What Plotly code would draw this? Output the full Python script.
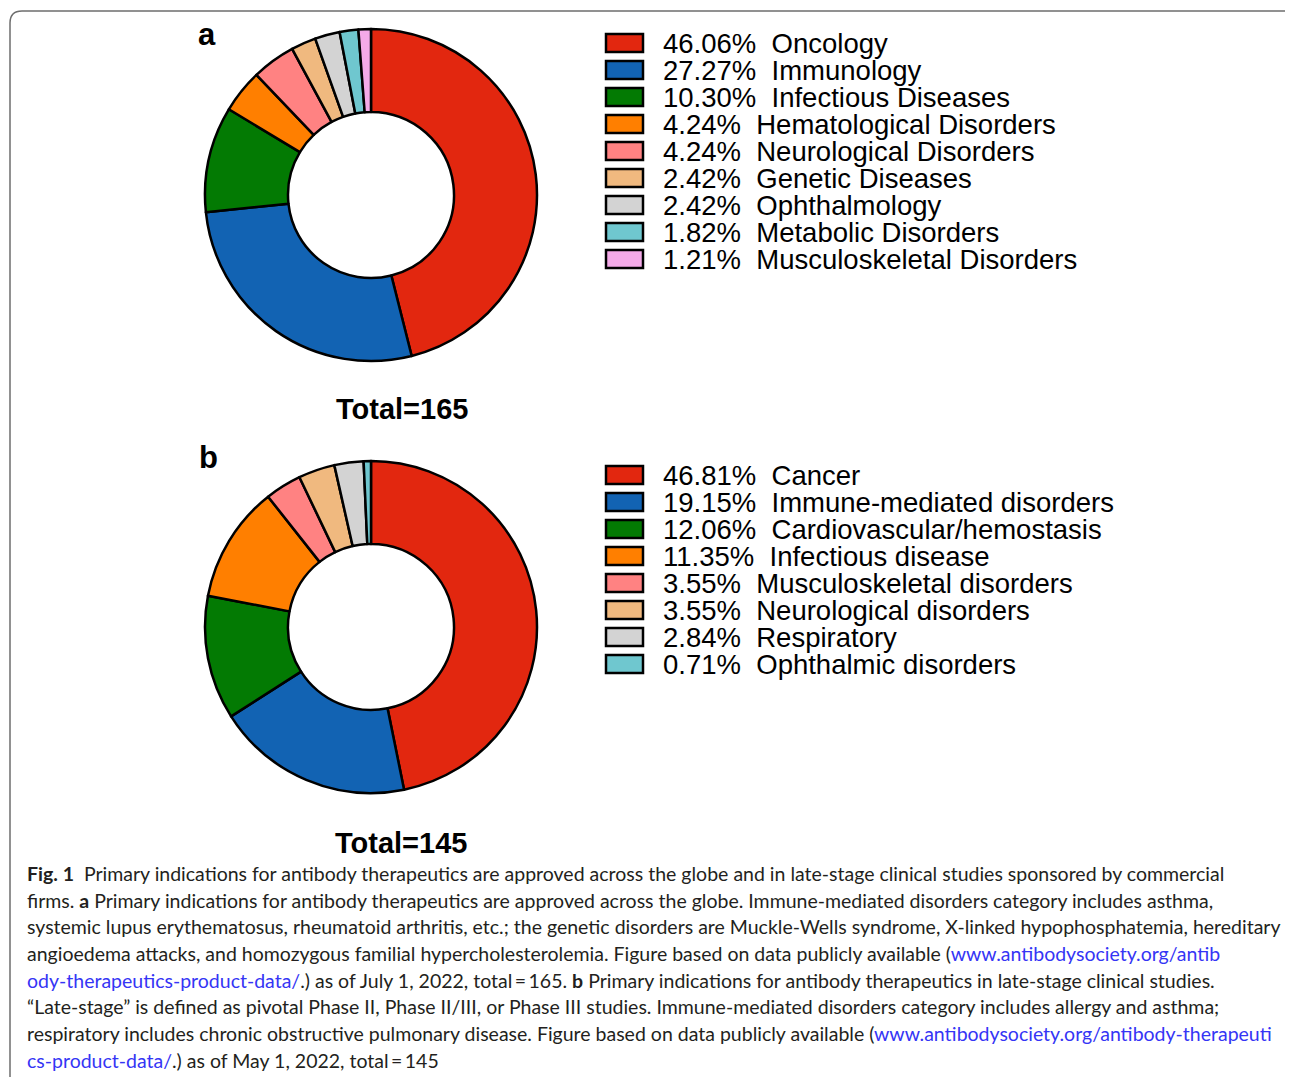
import plotly.graph_objects as go

# ---------------- data ----------------
labels_a = ["Oncology", "Immunology", "Infectious Diseases", "Hematological Disorders",
            "Neurological Disorders", "Genetic Diseases", "Ophthalmology",
            "Metabolic Disorders", "Musculoskeletal Disorders"]
counts_a = [76, 45, 17, 7, 7, 4, 4, 3, 2]
colors_a = ["#E2270F", "#1263B3", "#037A03", "#FF7F00", "#FF8282", "#F0B97F",
            "#D3D3D3", "#6FC7CF", "#F4AAE8"]
total_a_label = "Total=165"

labels_b = ["Cancer", "Immune-mediated disorders", "Cardiovascular/hemostasis",
            "Infectious disease", "Musculoskeletal disorders", "Neurological disorders",
            "Respiratory", "Ophthalmic disorders"]
counts_b = [66, 27, 17, 16, 5, 5, 4, 1]
colors_b = ["#E2270F", "#1263B3", "#037A03", "#FF7F00", "#FF8282", "#F0B97F",
            "#D3D3D3", "#6FC7CF"]
total_b_label = "Total=145"

LINK = "#3535F5"
def lk(s):
    return f"<span style='color:{LINK}'>{s}</span>"

caption_lines = [
    "<b>Fig. 1</b>  Primary indications for antibody therapeutics are approved across the globe and in late-stage clinical studies sponsored by commercial",
    "firms. <b>a</b> Primary indications for antibody therapeutics are approved across the globe. Immune-mediated disorders category includes asthma,",
    "systemic lupus erythematosus, rheumatoid arthritis, etc.; the genetic disorders are Muckle-Wells syndrome, X-linked hypophosphatemia, hereditary",
    "angioedema attacks, and homozygous familial hypercholesterolemia. Figure based on data publicly available (" + lk("www.antibodysociety.org/antib"),
    lk("ody-therapeutics-product-data/") + ".) as of July 1, 2022, total\u2009=\u2009165. <b>b</b> Primary indications for antibody therapeutics in late-stage clinical studies.",
    "\u201cLate-stage\u201d is defined as pivotal Phase II, Phase II/III, or Phase III studies. Immune-mediated disorders category includes allergy and asthma;",
    "respiratory includes chronic obstructive pulmonary disease. Figure based on data publicly available (" + lk("www.antibodysociety.org/antibody-therapeuti"),
    lk("cs-product-data/") + ".) as of May 1, 2022, total\u2009=\u2009145",
]

# ---------------- page geometry helpers ----------------
OFF = 8
W, H = 1293 - 2 * OFF, 1077 - OFF

def px(x):
    return (x - OFF) / W

def py(y):
    return 1 - (y - OFF) / H

fig = go.Figure()

def add_donut(counts, colors, labels, cx, cy, r):
    fig.add_trace(go.Pie(
        values=counts, labels=labels, sort=False, direction="clockwise", rotation=0,
        hole=0.5, textinfo="none", hoverinfo="label+percent",
        marker=dict(colors=colors, line=dict(color="black", width=2.5)),
        domain=dict(x=[px(cx - r), px(cx + r)], y=[py(cy + r), py(cy - r)]),
        showlegend=False,
    ))

add_donut(counts_a, colors_a, labels_a, 371, 195, 166)
add_donut(counts_b, colors_b, labels_b, 371, 627, 166)

shapes = []
annotations = []

def add_legend(counts, colors, labels, y0, step):
    tot = sum(counts)
    for i, (c, col, lab) in enumerate(zip(counts, colors, labels)):
        yc = y0 + i * step
        shapes.append(dict(type="rect", xref="paper", yref="paper",
                           x0=px(606), x1=px(643), y0=py(yc + 9), y1=py(yc - 9),
                           fillcolor=col, line=dict(color="black", width=2.5)))
        annotations.append(dict(xref="paper", yref="paper", x=px(661), y=py(yc + 0.5),
                                xanchor="left", yanchor="middle", showarrow=False,
                                text=f"{c / tot * 100:.2f}%  {lab}",
                                font=dict(family="Liberation Sans", size=27.5, color="black")))

add_legend(counts_a, colors_a, labels_a, 43, 27)
add_legend(counts_b, colors_b, labels_b, 475, 27)

# panel letters and totals
for txt, x, y, sz in [("a", 207, 34, 31), ("b", 208, 457, 31),
                      (total_a_label, 402, 409, 29), (total_b_label, 401, 843, 29)]:
    annotations.append(dict(xref="paper", yref="paper", x=px(x), y=py(y),
                            xanchor="center", yanchor="middle", showarrow=False,
                            text=f"<b>{txt}</b>",
                            font=dict(family="Liberation Sans", size=sz, color="black")))

# caption
cap_y = [873, 900, 926, 953, 980, 1006, 1033, 1060]
for line, y in zip(caption_lines, cap_y):
    annotations.append(dict(xref="paper", yref="paper", x=px(25), y=py(y),
                            xanchor="left", yanchor="middle", showarrow=False,
                            text=line,
                            font=dict(family="Lato", size=19.5, color="#231F20")))

# rounded frame
r = 12
x0, x1, y0, yb = 10, 1300, 11, 1120
path = (f"M {px(x0)},{py(yb)} L {px(x0)},{py(y0 + r)} "
        f"Q {px(x0)},{py(y0)} {px(x0 + r)},{py(y0)} "
        f"L {px(x1 - r)},{py(y0)} Q {px(x1)},{py(y0)} {px(x1)},{py(y0 + r)} "
        f"L {px(x1)},{py(yb)}")
shapes.append(dict(type="path", xref="paper", yref="paper", path=path,
                   line=dict(color="#6E6E6E", width=1.5)))

fig.update_layout(
    width=W, height=H, margin=dict(l=0, r=0, t=0, b=0),
    paper_bgcolor="white", plot_bgcolor="white",
    shapes=shapes, annotations=annotations, showlegend=False,
)

fig.write_html("out.html")
